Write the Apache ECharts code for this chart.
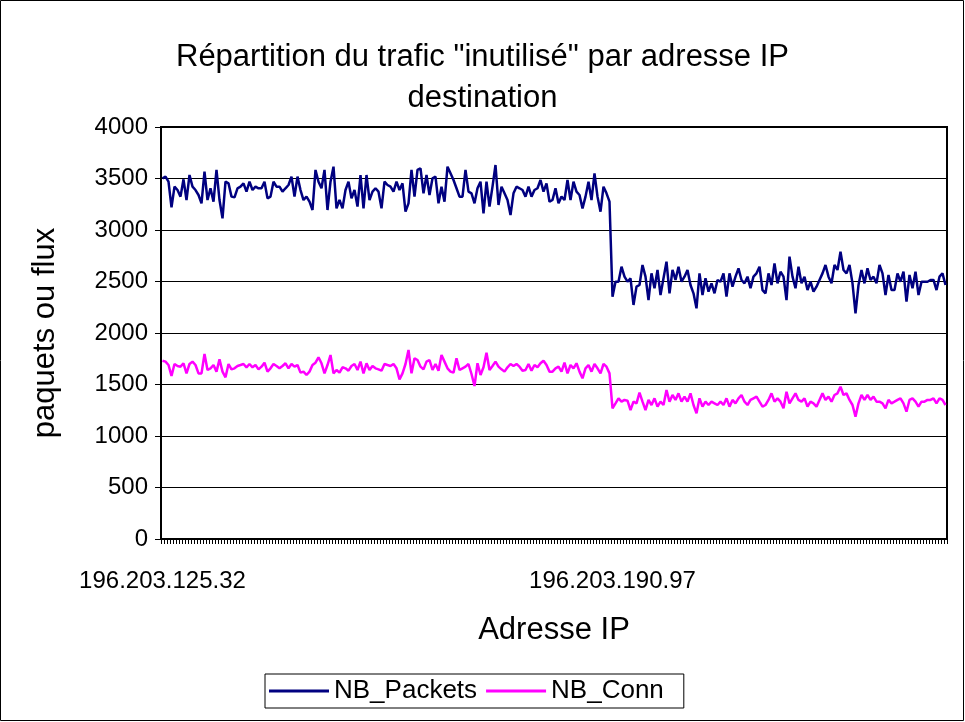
<!DOCTYPE html>
<html>
<head>
<meta charset="utf-8">
<script src="https://cdn.jsdelivr.net/npm/echarts@6/dist/echarts.min.js"></script>
<style>
  html, body { margin: 0; padding: 0; background: #fff; }
  #chart { width: 965px; height: 722px; }
</style>
</head>
<body>
<div id="chart"></div>
<script>
// Titles and axis texts
const titleText = 'Répartition du trafic "inutilisé" par adresse IP\ndestination';
const yAxisTitle = 'paquets ou flux';
const xAxisTitle = 'Adresse IP';

// Destination addresses shown on the category axis, with their positions
const addressLabels = ['196.203.125.32', '196.203.190.97'];
const addressLabelIndex = [0, 150];

// Y axis ticks
const yTicks = [0, 500, 1000, 1500, 2000, 2500, 3000, 3500, 4000];

// NB_Packets per destination address
const nbPackets = [
  3502,3518,3469,3220,3421,3388,3324,3492,3291,3534,3421,3388,3340,3259,3566,3291,3405,3275,3583,3291,
  3113,3469,3453,3324,3317,3405,3421,3453,3372,3469,3388,3421,3405,3405,3469,3307,3324,3469,3421,3421,
  3372,3405,3437,3518,3324,3518,3388,3291,3324,3275,3194,3583,3469,3405,3583,3194,3469,3615,3210,3291,
  3210,3388,3469,3307,3388,
  3227,3534,3210,3534,3291,3372,3405,3372,3210,3469,3437,3421,3372,3469,3388,3453,3178,3259,3583,3324,
  3583,3599,3356,3534,3340,3502,3518,3259,3421,3275,3615,3550,3485,3405,3324,3324,3583,3372,3356,3259,
  3405,3469,3162,3469,3227,3421,3631,3243,3421,3356,3291,3146,3356,3421,3405,3388,3324,3421,3324,3388,
  3405,3485,3372,3453,3275,
  3291,3405,3259,3324,3291,3485,3291,3469,3372,3340,3210,3324,3469,3291,3550,3324,3178,3421,3356,3275,
  2353,2498,2498,2644,2547,2498,2531,2272,2450,2466,2660,2547,2320,2579,2434,2612,2369,2531,2693,2385,
  2612,2515,2644,2498,2547,2612,2466,2385,2240,2579,2369,2531,2401,2482,2385,2515,2498,2579,2353,2579,
  2450,2547,2628,2515,2482,2547,
  2434,2547,2579,2644,2417,2385,2579,2466,2676,2482,2595,2547,2320,2741,2547,2434,2644,2482,2547,2417,
  2498,2401,2450,2515,2579,2660,2547,2482,2660,2612,2790,2612,2579,2660,2482,2191,2466,2612,2482,2628,
  2515,2547,2482,2660,2579,2369,2563,2417,2417,2579,2498,2595,2304,2563,2434,2595,2369,2498,2498,2498,
  2515,2515,2417,2547,2579,2466
];

// NB_Conn per destination address
const nbConn = [
  1731,1722,1689,1583,1699,1680,1673,1706,1608,1699,1722,1689,1608,1608,1796,1641,1657,1689,1625,1744,
  1625,1570,1699,1647,1657,1680,1689,1699,1667,1699,1667,1689,1647,1673,1712,1625,1657,1699,1680,1657,
  1680,1706,1657,1699,1673,1689,1615,1625,1592,1625,1689,1712,1764,1706,1608,1689,1786,1608,1641,1615,
  1667,1657,1634,1680,1699,
  1641,1722,1608,1706,1641,1680,1657,1647,1634,1699,1689,1680,1699,1657,1550,1608,1699,1835,1608,1754,
  1738,1673,1647,1722,1738,1641,1699,1634,1786,1722,1657,1625,1615,1754,1641,1657,1673,1699,1602,1485,
  1706,1592,1667,1809,1641,1680,1722,1673,1647,1625,1667,1699,1680,1699,1673,1634,1641,1699,1634,1689,
  1667,1706,1731,1689,1625,
  1625,1657,1673,1625,1712,1608,1689,1657,1706,1625,1560,1657,1689,1625,1699,1657,1608,1699,1673,1608,
  1269,1317,1366,1333,1350,1343,1252,1333,1317,1421,1333,1252,1350,1301,1366,1285,1333,1301,1447,1333,
  1398,1350,1414,1333,1382,1333,1414,1301,1220,1366,1285,1333,1301,1333,1317,1301,1333,1301,1366,1285,
  1350,1317,1366,
  1398,1333,1301,1350,1366,1382,1333,1285,1301,1350,1414,1333,1366,1333,1269,1430,1317,1366,1414,1350,
  1333,1366,1285,1333,1317,1285,1350,1414,1350,1382,1333,1398,1414,1479,1398,1414,1350,1301,1188,1317,
  1398,1350,1398,1350,1382,1333,1333,1317,1269,1350,1317,1333,1350,1366,1317,1236,1350,1366,1333,1285,
  1333,1333,1350,1350,1366,1317,1366,1350,1301
];

// One category per destination address
const categories = nbPackets.map((_, i) => String(i));
const labelByIndex = {};
addressLabelIndex.forEach((idx, k) => { labelByIndex[idx] = addressLabels[k]; });

const FONT = '"Liberation Sans", Arial, sans-serif';

const chart = echarts.init(document.getElementById('chart'), null, { renderer: 'canvas' });

chart.setOption({
  backgroundColor: '#ffffff',
  animation: false,
  title: {
    text: titleText,
    left: 'center',
    top: 32,
    textStyle: {
      fontFamily: FONT,
      fontSize: 31,
      fontWeight: 'normal',
      color: '#000',
      lineHeight: 41
    }
  },
  graphic: [{
    type: 'rect',
    shape: { x: 0.5, y: 0.5, width: 963, height: 720 },
    style: { fill: 'none', stroke: '#000', lineWidth: 1 },
    silent: true,
    z: 100
  }],
  legend: {
    left: 265,
    top: 674,
    padding: [4, 20, 4, 4],
    itemGap: 9,
    itemWidth: 60,
    itemHeight: 3,
    icon: 'rect',
    borderColor: '#000',
    borderWidth: 1,
    textStyle: { fontFamily: FONT, fontSize: 26, color: '#000', padding: [0, 2, 0, 0] },
    data: ['NB_Packets', 'NB_Conn']
  },
  grid: {
    left: 161,
    right: 18,
    top: 127,
    bottom: 183,
    show: true,
    borderColor: '#000',
    borderWidth: 2,
    containLabel: false
  },
  xAxis: {
    type: 'category',
    data: categories,
    boundaryGap: true,
    name: xAxisTitle,
    nameLocation: 'middle',
    nameGap: 76,
    nameTextStyle: { fontFamily: FONT, fontSize: 31, color: '#000' },
    axisLine: { show: true, lineStyle: { color: '#000', width: 2 } },
    axisTick: { show: true, interval: 0, length: 5, lineStyle: { color: '#000', width: 1 } },
    axisLabel: {
      interval: (idx) => labelByIndex[idx] !== undefined,
      formatter: (val, idx) => labelByIndex[idx] || '',
      fontFamily: FONT,
      fontSize: 24,
      color: '#000',
      margin: 30,
      hideOverlap: false
    },
    splitLine: { show: false }
  },
  yAxis: {
    type: 'value',
    min: yTicks[0],
    max: yTicks[yTicks.length - 1],
    interval: yTicks[1] - yTicks[0],
    name: yAxisTitle,
    nameLocation: 'middle',
    nameRotate: 90,
    nameGap: 100,
    nameTextStyle: { fontFamily: FONT, fontSize: 31, color: '#000' },
    axisLine: { show: true, lineStyle: { color: '#000', width: 2 } },
    axisTick: { show: true, length: 6, lineStyle: { color: '#000', width: 1 } },
    axisLabel: {
      fontFamily: FONT,
      fontSize: 24,
      color: '#000',
      margin: 13,
      formatter: (v) => String(v)
    },
    splitLine: { show: true, lineStyle: { color: '#000', width: 1 } }
  },
  series: [
    {
      name: 'NB_Packets',
      type: 'line',
      data: nbPackets,
      symbol: 'none',
      lineStyle: { color: '#000080', width: 2.5 },
      itemStyle: { color: '#000080' },
      z: 3
    },
    {
      name: 'NB_Conn',
      type: 'line',
      data: nbConn,
      symbol: 'none',
      lineStyle: { color: '#FF00FF', width: 2.5 },
      itemStyle: { color: '#FF00FF' },
      z: 3
    }
  ]
});
</script>
</body>
</html>
